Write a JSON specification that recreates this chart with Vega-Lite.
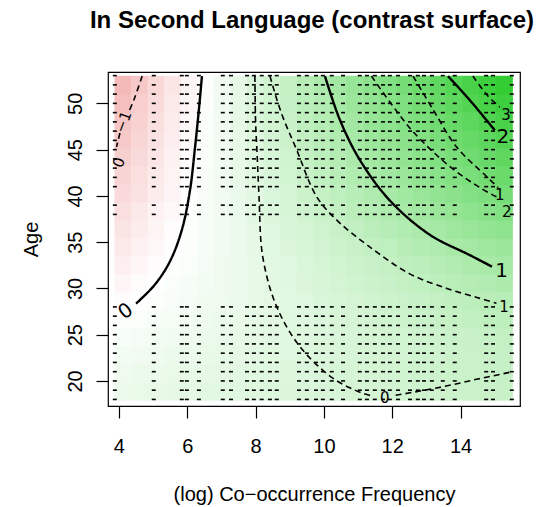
{
"$schema": "https://vega.github.io/schema/vega-lite/v6.json",
"autosize": {"type": "none"},
"padding": {"left": 108, "top": 72, "right": 21, "bottom": 101},
"width": 412,
"height": 334,
"background": "white",
"title": {"text": "In Second Language (contrast surface)", "font": "Liberation Sans", "fontSize": 24, "fontWeight": "bold", "color": "black", "anchor": "middle", "baseline": "alphabetic", "offset": 20, "dx": -2},
"config": {"view": {"stroke": "black", "strokeWidth": 1.2}},
"encoding": {
  "x": {"field": "x", "type": "quantitative", "scale": {"domain": [3.68, 15.74], "nice": false, "zero": false},
        "axis": {"values": [4, 6, 8, 10, 12, 14], "title": "(log) Co−occurrence Frequency", "domain": false, "grid": false, "tickSize": 12, "tickColor": "black", "tickWidth": 1.2, "labelFont": "Liberation Sans", "labelFontSize": 20, "labelColor": "black", "labelBaseline": "top", "labelPadding": 18, "labelFlush": false, "titleFont": "Liberation Sans", "titleFontSize": 20, "titleFontWeight": "normal", "titleColor": "black", "titleBaseline": "alphabetic", "titleY": 94, "titleX": 206}},
  "y": {"field": "y", "type": "quantitative", "scale": {"domain": [17.29, 53.39], "nice": false, "zero": false},
        "axis": {"values": [20, 25, 30, 35, 40, 45, 50], "title": "Age", "domain": false, "grid": false, "tickSize": 12, "tickColor": "black", "tickWidth": 1.2, "labelFont": "Liberation Sans", "labelFontSize": 20, "labelColor": "black", "labelAngle": -90, "labelAlign": "center", "labelBaseline": "top", "labelPadding": 31, "labelFlush": false, "titleFont": "Liberation Sans", "titleFontSize": 20, "titleFontWeight": "normal", "titleColor": "black", "titleAngle": -90, "titleAlign": "center", "titleBaseline": "alphabetic", "titleX": -71, "titleY": 167}}
},
"layer": [
{
"data": {"values": [
{"x":4.12,"y":18.87,"v":0.24},{"x":4.61,"y":18.87,"v":0.26},{"x":5.09,"y":18.87,"v":0.27},{"x":5.58,"y":18.87,"v":0.29},{"x":6.06,"y":18.87,"v":0.31},{"x":6.55,"y":18.87,"v":0.33},{"x":7.03,"y":18.87,"v":0.35},{"x":7.52,"y":18.87,"v":0.36},{"x":8.00,"y":18.87,"v":0.38},{"x":8.49,"y":18.87,"v":0.40},{"x":8.97,"y":18.87,"v":0.42},{"x":9.46,"y":18.87,"v":0.44},{"x":9.94,"y":18.87,"v":0.45},{"x":10.43,"y":18.87,"v":0.47},{"x":10.91,"y":18.87,"v":0.49},{"x":11.40,"y":18.87,"v":0.51},{"x":11.88,"y":18.87,"v":0.53},{"x":12.37,"y":18.87,"v":0.54},{"x":12.85,"y":18.87,"v":0.56},{"x":13.34,"y":18.87,"v":0.58},{"x":13.82,"y":18.87,"v":0.60},{"x":14.31,"y":18.87,"v":0.62},{"x":14.79,"y":18.87,"v":0.63},{"x":15.28,"y":18.87,"v":0.65},
{"x":4.12,"y":20.82,"v":0.20},{"x":4.61,"y":20.82,"v":0.22},{"x":5.09,"y":20.82,"v":0.24},{"x":5.58,"y":20.82,"v":0.26},{"x":6.06,"y":20.82,"v":0.28},{"x":6.55,"y":20.82,"v":0.30},{"x":7.03,"y":20.82,"v":0.32},{"x":7.52,"y":20.82,"v":0.34},{"x":8.00,"y":20.82,"v":0.36},{"x":8.49,"y":20.82,"v":0.38},{"x":8.97,"y":20.82,"v":0.40},{"x":9.46,"y":20.82,"v":0.42},{"x":9.94,"y":20.82,"v":0.45},{"x":10.43,"y":20.82,"v":0.47},{"x":10.91,"y":20.82,"v":0.49},{"x":11.40,"y":20.82,"v":0.51},{"x":11.88,"y":20.82,"v":0.53},{"x":12.37,"y":20.82,"v":0.55},{"x":12.85,"y":20.82,"v":0.57},{"x":13.34,"y":20.82,"v":0.59},{"x":13.82,"y":20.82,"v":0.61},{"x":14.31,"y":20.82,"v":0.63},{"x":14.79,"y":20.82,"v":0.65},{"x":15.28,"y":20.82,"v":0.67},
{"x":4.12,"y":22.77,"v":0.15},{"x":4.61,"y":22.77,"v":0.17},{"x":5.09,"y":22.77,"v":0.19},{"x":5.58,"y":22.77,"v":0.22},{"x":6.06,"y":22.77,"v":0.24},{"x":6.55,"y":22.77,"v":0.26},{"x":7.03,"y":22.77,"v":0.28},{"x":7.52,"y":22.77,"v":0.31},{"x":8.00,"y":22.77,"v":0.33},{"x":8.49,"y":22.77,"v":0.35},{"x":8.97,"y":22.77,"v":0.38},{"x":9.46,"y":22.77,"v":0.40},{"x":9.94,"y":22.77,"v":0.42},{"x":10.43,"y":22.77,"v":0.44},{"x":10.91,"y":22.77,"v":0.47},{"x":11.40,"y":22.77,"v":0.49},{"x":11.88,"y":22.77,"v":0.51},{"x":12.37,"y":22.77,"v":0.53},{"x":12.85,"y":22.77,"v":0.56},{"x":13.34,"y":22.77,"v":0.58},{"x":13.82,"y":22.77,"v":0.60},{"x":14.31,"y":22.77,"v":0.63},{"x":14.79,"y":22.77,"v":0.65},{"x":15.28,"y":22.77,"v":0.67},
{"x":4.12,"y":24.72,"v":0.09},{"x":4.61,"y":24.72,"v":0.12},{"x":5.09,"y":24.72,"v":0.15},{"x":5.58,"y":24.72,"v":0.17},{"x":6.06,"y":24.72,"v":0.20},{"x":6.55,"y":24.72,"v":0.22},{"x":7.03,"y":24.72,"v":0.25},{"x":7.52,"y":24.72,"v":0.28},{"x":8.00,"y":24.72,"v":0.30},{"x":8.49,"y":24.72,"v":0.33},{"x":8.97,"y":24.72,"v":0.36},{"x":9.46,"y":24.72,"v":0.38},{"x":9.94,"y":24.72,"v":0.41},{"x":10.43,"y":24.72,"v":0.44},{"x":10.91,"y":24.72,"v":0.46},{"x":11.40,"y":24.72,"v":0.49},{"x":11.88,"y":24.72,"v":0.52},{"x":12.37,"y":24.72,"v":0.54},{"x":12.85,"y":24.72,"v":0.57},{"x":13.34,"y":24.72,"v":0.59},{"x":13.82,"y":24.72,"v":0.62},{"x":14.31,"y":24.72,"v":0.65},{"x":14.79,"y":24.72,"v":0.67},{"x":15.28,"y":24.72,"v":0.70},
{"x":4.12,"y":26.66,"v":0.04},{"x":4.61,"y":26.66,"v":0.07},{"x":5.09,"y":26.66,"v":0.10},{"x":5.58,"y":26.66,"v":0.13},{"x":6.06,"y":26.66,"v":0.17},{"x":6.55,"y":26.66,"v":0.20},{"x":7.03,"y":26.66,"v":0.23},{"x":7.52,"y":26.66,"v":0.26},{"x":8.00,"y":26.66,"v":0.29},{"x":8.49,"y":26.66,"v":0.33},{"x":8.97,"y":26.66,"v":0.36},{"x":9.46,"y":26.66,"v":0.39},{"x":9.94,"y":26.66,"v":0.42},{"x":10.43,"y":26.66,"v":0.46},{"x":10.91,"y":26.66,"v":0.49},{"x":11.40,"y":26.66,"v":0.52},{"x":11.88,"y":26.66,"v":0.55},{"x":12.37,"y":26.66,"v":0.59},{"x":12.85,"y":26.66,"v":0.62},{"x":13.34,"y":26.66,"v":0.65},{"x":13.82,"y":26.66,"v":0.68},{"x":14.31,"y":26.66,"v":0.71},{"x":14.79,"y":26.66,"v":0.75},{"x":15.28,"y":26.66,"v":0.78},
{"x":4.12,"y":28.61,"v":-0.03},{"x":4.61,"y":28.61,"v":0.01},{"x":5.09,"y":28.61,"v":0.05},{"x":5.58,"y":28.61,"v":0.08},{"x":6.06,"y":28.61,"v":0.12},{"x":6.55,"y":28.61,"v":0.16},{"x":7.03,"y":28.61,"v":0.20},{"x":7.52,"y":28.61,"v":0.24},{"x":8.00,"y":28.61,"v":0.28},{"x":8.49,"y":28.61,"v":0.32},{"x":8.97,"y":28.61,"v":0.35},{"x":9.46,"y":28.61,"v":0.39},{"x":9.94,"y":28.61,"v":0.43},{"x":10.43,"y":28.61,"v":0.47},{"x":10.91,"y":28.61,"v":0.51},{"x":11.40,"y":28.61,"v":0.55},{"x":11.88,"y":28.61,"v":0.59},{"x":12.37,"y":28.61,"v":0.62},{"x":12.85,"y":28.61,"v":0.66},{"x":13.34,"y":28.61,"v":0.70},{"x":13.82,"y":28.61,"v":0.74},{"x":14.31,"y":28.61,"v":0.78},{"x":14.79,"y":28.61,"v":0.82},{"x":15.28,"y":28.61,"v":0.85},
{"x":4.12,"y":30.56,"v":-0.08},{"x":4.61,"y":30.56,"v":-0.04},{"x":5.09,"y":30.56,"v":0.01},{"x":5.58,"y":30.56,"v":0.06},{"x":6.06,"y":30.56,"v":0.10},{"x":6.55,"y":30.56,"v":0.15},{"x":7.03,"y":30.56,"v":0.19},{"x":7.52,"y":30.56,"v":0.24},{"x":8.00,"y":30.56,"v":0.28},{"x":8.49,"y":30.56,"v":0.33},{"x":8.97,"y":30.56,"v":0.37},{"x":9.46,"y":30.56,"v":0.42},{"x":9.94,"y":30.56,"v":0.46},{"x":10.43,"y":30.56,"v":0.51},{"x":10.91,"y":30.56,"v":0.55},{"x":11.40,"y":30.56,"v":0.60},{"x":11.88,"y":30.56,"v":0.64},{"x":12.37,"y":30.56,"v":0.69},{"x":12.85,"y":30.56,"v":0.73},{"x":13.34,"y":30.56,"v":0.78},{"x":13.82,"y":30.56,"v":0.82},{"x":14.31,"y":30.56,"v":0.87},{"x":14.79,"y":30.56,"v":0.91},{"x":15.28,"y":30.56,"v":0.96},
{"x":4.12,"y":32.50,"v":-0.14},{"x":4.61,"y":32.50,"v":-0.08},{"x":5.09,"y":32.50,"v":-0.03},{"x":5.58,"y":32.50,"v":0.02},{"x":6.06,"y":32.50,"v":0.07},{"x":6.55,"y":32.50,"v":0.12},{"x":7.03,"y":32.50,"v":0.18},{"x":7.52,"y":32.50,"v":0.23},{"x":8.00,"y":32.50,"v":0.28},{"x":8.49,"y":32.50,"v":0.33},{"x":8.97,"y":32.50,"v":0.38},{"x":9.46,"y":32.50,"v":0.44},{"x":9.94,"y":32.50,"v":0.49},{"x":10.43,"y":32.50,"v":0.54},{"x":10.91,"y":32.50,"v":0.59},{"x":11.40,"y":32.50,"v":0.64},{"x":11.88,"y":32.50,"v":0.70},{"x":12.37,"y":32.50,"v":0.75},{"x":12.85,"y":32.50,"v":0.80},{"x":13.34,"y":32.50,"v":0.85},{"x":13.82,"y":32.50,"v":0.90},{"x":14.31,"y":32.50,"v":0.96},{"x":14.79,"y":32.50,"v":1.01},{"x":15.28,"y":32.50,"v":1.06},
{"x":4.12,"y":34.45,"v":-0.19},{"x":4.61,"y":34.45,"v":-0.13},{"x":5.09,"y":34.45,"v":-0.07},{"x":5.58,"y":34.45,"v":-0.01},{"x":6.06,"y":34.45,"v":0.05},{"x":6.55,"y":34.45,"v":0.11},{"x":7.03,"y":34.45,"v":0.17},{"x":7.52,"y":34.45,"v":0.23},{"x":8.00,"y":34.45,"v":0.29},{"x":8.49,"y":34.45,"v":0.35},{"x":8.97,"y":34.45,"v":0.41},{"x":9.46,"y":34.45,"v":0.47},{"x":9.94,"y":34.45,"v":0.53},{"x":10.43,"y":34.45,"v":0.59},{"x":10.91,"y":34.45,"v":0.65},{"x":11.40,"y":34.45,"v":0.71},{"x":11.88,"y":34.45,"v":0.77},{"x":12.37,"y":34.45,"v":0.83},{"x":12.85,"y":34.45,"v":0.89},{"x":13.34,"y":34.45,"v":0.95},{"x":13.82,"y":34.45,"v":1.01},{"x":14.31,"y":34.45,"v":1.07},{"x":14.79,"y":34.45,"v":1.13},{"x":15.28,"y":34.45,"v":1.19},
{"x":4.12,"y":36.40,"v":-0.24},{"x":4.61,"y":36.40,"v":-0.17},{"x":5.09,"y":36.40,"v":-0.10},{"x":5.58,"y":36.40,"v":-0.03},{"x":6.06,"y":36.40,"v":0.04},{"x":6.55,"y":36.40,"v":0.10},{"x":7.03,"y":36.40,"v":0.17},{"x":7.52,"y":36.40,"v":0.24},{"x":8.00,"y":36.40,"v":0.31},{"x":8.49,"y":36.40,"v":0.38},{"x":8.97,"y":36.40,"v":0.45},{"x":9.46,"y":36.40,"v":0.51},{"x":9.94,"y":36.40,"v":0.58},{"x":10.43,"y":36.40,"v":0.65},{"x":10.91,"y":36.40,"v":0.72},{"x":11.40,"y":36.40,"v":0.79},{"x":11.88,"y":36.40,"v":0.86},{"x":12.37,"y":36.40,"v":0.92},{"x":12.85,"y":36.40,"v":0.99},{"x":13.34,"y":36.40,"v":1.06},{"x":13.82,"y":36.40,"v":1.13},{"x":14.31,"y":36.40,"v":1.20},{"x":14.79,"y":36.40,"v":1.27},{"x":15.28,"y":36.40,"v":1.33},
{"x":4.12,"y":38.35,"v":-0.29},{"x":4.61,"y":38.35,"v":-0.21},{"x":5.09,"y":38.35,"v":-0.13},{"x":5.58,"y":38.35,"v":-0.06},{"x":6.06,"y":38.35,"v":0.02},{"x":6.55,"y":38.35,"v":0.10},{"x":7.03,"y":38.35,"v":0.17},{"x":7.52,"y":38.35,"v":0.25},{"x":8.00,"y":38.35,"v":0.33},{"x":8.49,"y":38.35,"v":0.40},{"x":8.97,"y":38.35,"v":0.48},{"x":9.46,"y":38.35,"v":0.56},{"x":9.94,"y":38.35,"v":0.63},{"x":10.43,"y":38.35,"v":0.71},{"x":10.91,"y":38.35,"v":0.79},{"x":11.40,"y":38.35,"v":0.87},{"x":11.88,"y":38.35,"v":0.94},{"x":12.37,"y":38.35,"v":1.02},{"x":12.85,"y":38.35,"v":1.10},{"x":13.34,"y":38.35,"v":1.17},{"x":13.82,"y":38.35,"v":1.25},{"x":14.31,"y":38.35,"v":1.33},{"x":14.79,"y":38.35,"v":1.40},{"x":15.28,"y":38.35,"v":1.48},
{"x":4.12,"y":40.29,"v":-0.34},{"x":4.61,"y":40.29,"v":-0.26},{"x":5.09,"y":40.29,"v":-0.17},{"x":5.58,"y":40.29,"v":-0.09},{"x":6.06,"y":40.29,"v":0.00},{"x":6.55,"y":40.29,"v":0.08},{"x":7.03,"y":40.29,"v":0.17},{"x":7.52,"y":40.29,"v":0.25},{"x":8.00,"y":40.29,"v":0.34},{"x":8.49,"y":40.29,"v":0.43},{"x":8.97,"y":40.29,"v":0.51},{"x":9.46,"y":40.29,"v":0.60},{"x":9.94,"y":40.29,"v":0.68},{"x":10.43,"y":40.29,"v":0.77},{"x":10.91,"y":40.29,"v":0.85},{"x":11.40,"y":40.29,"v":0.94},{"x":11.88,"y":40.29,"v":1.02},{"x":12.37,"y":40.29,"v":1.11},{"x":12.85,"y":40.29,"v":1.20},{"x":13.34,"y":40.29,"v":1.28},{"x":13.82,"y":40.29,"v":1.37},{"x":14.31,"y":40.29,"v":1.45},{"x":14.79,"y":40.29,"v":1.54},{"x":15.28,"y":40.29,"v":1.62},
{"x":4.12,"y":42.24,"v":-0.39},{"x":4.61,"y":42.24,"v":-0.29},{"x":5.09,"y":42.24,"v":-0.20},{"x":5.58,"y":42.24,"v":-0.11},{"x":6.06,"y":42.24,"v":-0.01},{"x":6.55,"y":42.24,"v":0.08},{"x":7.03,"y":42.24,"v":0.17},{"x":7.52,"y":42.24,"v":0.27},{"x":8.00,"y":42.24,"v":0.36},{"x":8.49,"y":42.24,"v":0.45},{"x":8.97,"y":42.24,"v":0.54},{"x":9.46,"y":42.24,"v":0.64},{"x":9.94,"y":42.24,"v":0.73},{"x":10.43,"y":42.24,"v":0.82},{"x":10.91,"y":42.24,"v":0.92},{"x":11.40,"y":42.24,"v":1.01},{"x":11.88,"y":42.24,"v":1.10},{"x":12.37,"y":42.24,"v":1.20},{"x":12.85,"y":42.24,"v":1.29},{"x":13.34,"y":42.24,"v":1.38},{"x":13.82,"y":42.24,"v":1.48},{"x":14.31,"y":42.24,"v":1.57},{"x":14.79,"y":42.24,"v":1.66},{"x":15.28,"y":42.24,"v":1.75},
{"x":4.12,"y":44.19,"v":-0.43},{"x":4.61,"y":44.19,"v":-0.33},{"x":5.09,"y":44.19,"v":-0.23},{"x":5.58,"y":44.19,"v":-0.13},{"x":6.06,"y":44.19,"v":-0.03},{"x":6.55,"y":44.19,"v":0.07},{"x":7.03,"y":44.19,"v":0.17},{"x":7.52,"y":44.19,"v":0.27},{"x":8.00,"y":44.19,"v":0.37},{"x":8.49,"y":44.19,"v":0.47},{"x":8.97,"y":44.19,"v":0.58},{"x":9.46,"y":44.19,"v":0.68},{"x":9.94,"y":44.19,"v":0.78},{"x":10.43,"y":44.19,"v":0.88},{"x":10.91,"y":44.19,"v":0.98},{"x":11.40,"y":44.19,"v":1.08},{"x":11.88,"y":44.19,"v":1.18},{"x":12.37,"y":44.19,"v":1.28},{"x":12.85,"y":44.19,"v":1.38},{"x":13.34,"y":44.19,"v":1.48},{"x":13.82,"y":44.19,"v":1.58},{"x":14.31,"y":44.19,"v":1.68},{"x":14.79,"y":44.19,"v":1.78},{"x":15.28,"y":44.19,"v":1.88},
{"x":4.12,"y":46.13,"v":-0.48},{"x":4.61,"y":46.13,"v":-0.37},{"x":5.09,"y":46.13,"v":-0.26},{"x":5.58,"y":46.13,"v":-0.15},{"x":6.06,"y":46.13,"v":-0.04},{"x":6.55,"y":46.13,"v":0.07},{"x":7.03,"y":46.13,"v":0.17},{"x":7.52,"y":46.13,"v":0.28},{"x":8.00,"y":46.13,"v":0.39},{"x":8.49,"y":46.13,"v":0.50},{"x":8.97,"y":46.13,"v":0.61},{"x":9.46,"y":46.13,"v":0.72},{"x":9.94,"y":46.13,"v":0.82},{"x":10.43,"y":46.13,"v":0.93},{"x":10.91,"y":46.13,"v":1.04},{"x":11.40,"y":46.13,"v":1.15},{"x":11.88,"y":46.13,"v":1.26},{"x":12.37,"y":46.13,"v":1.36},{"x":12.85,"y":46.13,"v":1.47},{"x":13.34,"y":46.13,"v":1.58},{"x":13.82,"y":46.13,"v":1.69},{"x":14.31,"y":46.13,"v":1.80},{"x":14.79,"y":46.13,"v":1.91},{"x":15.28,"y":46.13,"v":2.01},
{"x":4.12,"y":48.08,"v":-0.52},{"x":4.61,"y":48.08,"v":-0.41},{"x":5.09,"y":48.08,"v":-0.29},{"x":5.58,"y":48.08,"v":-0.17},{"x":6.06,"y":48.08,"v":-0.06},{"x":6.55,"y":48.08,"v":0.06},{"x":7.03,"y":48.08,"v":0.17},{"x":7.52,"y":48.08,"v":0.29},{"x":8.00,"y":48.08,"v":0.41},{"x":8.49,"y":48.08,"v":0.52},{"x":8.97,"y":48.08,"v":0.64},{"x":9.46,"y":48.08,"v":0.75},{"x":9.94,"y":48.08,"v":0.87},{"x":10.43,"y":48.08,"v":0.98},{"x":10.91,"y":48.08,"v":1.10},{"x":11.40,"y":48.08,"v":1.22},{"x":11.88,"y":48.08,"v":1.33},{"x":12.37,"y":48.08,"v":1.45},{"x":12.85,"y":48.08,"v":1.56},{"x":13.34,"y":48.08,"v":1.68},{"x":13.82,"y":48.08,"v":1.79},{"x":14.31,"y":48.08,"v":1.91},{"x":14.79,"y":48.08,"v":2.03},{"x":15.28,"y":48.08,"v":2.14},
{"x":4.12,"y":50.03,"v":-0.57},{"x":4.61,"y":50.03,"v":-0.44},{"x":5.09,"y":50.03,"v":-0.32},{"x":5.58,"y":50.03,"v":-0.20},{"x":6.06,"y":50.03,"v":-0.08},{"x":6.55,"y":50.03,"v":0.05},{"x":7.03,"y":50.03,"v":0.17},{"x":7.52,"y":50.03,"v":0.30},{"x":8.00,"y":50.03,"v":0.42},{"x":8.49,"y":50.03,"v":0.54},{"x":8.97,"y":50.03,"v":0.67},{"x":9.46,"y":50.03,"v":0.79},{"x":9.94,"y":50.03,"v":0.91},{"x":10.43,"y":50.03,"v":1.04},{"x":10.91,"y":50.03,"v":1.16},{"x":11.40,"y":50.03,"v":1.28},{"x":11.88,"y":50.03,"v":1.41},{"x":12.37,"y":50.03,"v":1.53},{"x":12.85,"y":50.03,"v":1.65},{"x":13.34,"y":50.03,"v":1.78},{"x":13.82,"y":50.03,"v":1.90},{"x":14.31,"y":50.03,"v":2.02},{"x":14.79,"y":50.03,"v":2.15},{"x":15.28,"y":50.03,"v":2.27},
{"x":4.12,"y":51.98,"v":-0.62},{"x":4.61,"y":51.98,"v":-0.49},{"x":5.09,"y":51.98,"v":-0.35},{"x":5.58,"y":51.98,"v":-0.22},{"x":6.06,"y":51.98,"v":-0.09},{"x":6.55,"y":51.98,"v":0.04},{"x":7.03,"y":51.98,"v":0.17},{"x":7.52,"y":51.98,"v":0.30},{"x":8.00,"y":51.98,"v":0.43},{"x":8.49,"y":51.98,"v":0.56},{"x":8.97,"y":51.98,"v":0.69},{"x":9.46,"y":51.98,"v":0.83},{"x":9.94,"y":51.98,"v":0.96},{"x":10.43,"y":51.98,"v":1.09},{"x":10.91,"y":51.98,"v":1.22},{"x":11.40,"y":51.98,"v":1.35},{"x":11.88,"y":51.98,"v":1.48},{"x":12.37,"y":51.98,"v":1.61},{"x":12.85,"y":51.98,"v":1.74},{"x":13.34,"y":51.98,"v":1.87},{"x":13.82,"y":51.98,"v":2.00},{"x":14.31,"y":51.98,"v":2.14},{"x":14.79,"y":51.98,"v":2.27},{"x":15.28,"y":51.98,"v":2.40}
]},
"mark": {"type": "rect", "width": 17.2, "height": 18.6},
"encoding": {"color": {"field": "v", "type": "quantitative", "scale": {"type": "linear", "domain": [-2.0, 0, 2.6], "range": ["#dd2020", "#ffffff", "#22c822"], "interpolate": "rgb"}, "legend": null}}
},
{
"data": {"values": [{"x": [3.88, 5.02, 5.84, 5.99, 6.34, 7.04, 7.28, 7.75, 7.95, 8.18, 8.42, 8.62, 9.27, 9.50, 9.77, 9.97, 10.23, 10.56, 11.05, 11.26, 11.49, 11.73, 11.93, 12.17, 12.52, 12.75, 12.93, 13.16, 13.48, 13.83, 14.75, 14.95, 15.50], "y": [18, 19, 20, 21, 22, 23, 24, 25, 26, 27, 28, 38, 39, 41, 42, 43, 44, 45, 46, 47, 48, 49, 50, 51, 52, 53]}]},
"transform": [{"flatten": ["x"]}, {"flatten": ["y"]}],
"mark": {"type": "tick", "orient": "horizontal", "size": 4, "thickness": 1.6, "color": "black", "opacity": 1}
},
{
"data": {"values": [
{"c":"s0","k":1,"x":6.43,"y":52.95,"type":"fit"},{"c":"s0","k":2,"x":6.34,"y":49.3,"type":"fit"},{"c":"s0","k":3,"x":6.22,"y":45.0,"type":"fit"},{"c":"s0","k":4,"x":6.08,"y":40.6,"type":"fit"},{"c":"s0","k":5,"x":5.84,"y":36.3,"type":"fit"},{"c":"s0","k":6,"x":5.49,"y":32.9,"type":"fit"},{"c":"s0","k":7,"x":5.05,"y":30.4,"type":"fit"},{"c":"s0","k":8,"x":4.5,"y":28.35,"type":"fit"},
{"c":"s1","k":1,"x":10.03,"y":52.95,"type":"fit"},{"c":"s1","k":2,"x":10.47,"y":48.2,"type":"fit"},{"c":"s1","k":3,"x":11.05,"y":43.9,"type":"fit"},{"c":"s1","k":4,"x":11.93,"y":39.5,"type":"fit"},{"c":"s1","k":5,"x":13.1,"y":35.8,"type":"fit"},{"c":"s1","k":6,"x":14.27,"y":33.6,"type":"fit"},{"c":"s1","k":7,"x":14.92,"y":32.35,"type":"fit"},
{"c":"s2","k":1,"x":13.63,"y":52.95,"type":"fit"},{"c":"s2","k":2,"x":14.27,"y":50.35,"type":"fit"},{"c":"s2","k":3,"x":15.0,"y":47.1,"type":"fit"},
{"c":"cm1","k":1,"x":4.68,"y":52.95,"type":"ci"},{"c":"cm1","k":2,"x":4.45,"y":50.5,"type":"ci"},{"c":"cm1","k":3,"x":4.28,"y":49.0,"type":"ci"},
{"c":"cm1b","k":1,"x":4.03,"y":46.8,"type":"ci"},{"c":"cm1b","k":2,"x":3.93,"y":45.3,"type":"ci"},
{"c":"c0","k":1,"x":7.98,"y":52.95,"type":"ci"},{"c":"c0","k":2,"x":8.0,"y":48.0,"type":"ci"},{"c":"c0","k":3,"x":8.04,"y":44.9,"type":"ci"},{"c":"c0","k":4,"x":8.1,"y":40.0,"type":"ci"},{"c":"c0","k":5,"x":8.21,"y":33.4,"type":"ci"},{"c":"c0","k":6,"x":8.62,"y":28.0,"type":"ci"},{"c":"c0","k":7,"x":9.3,"y":23.7,"type":"ci"},{"c":"c0","k":8,"x":10.26,"y":20.3,"type":"ci"},{"c":"c0","k":9,"x":11.11,"y":18.7,"type":"ci"},{"c":"c0","k":10,"x":11.45,"y":18.35,"type":"ci"},
{"c":"c0b","k":1,"x":12.1,"y":18.45,"type":"ci"},{"c":"c0b","k":2,"x":13.39,"y":19.3,"type":"ci"},{"c":"c0b","k":3,"x":14.5,"y":20.2,"type":"ci"},{"c":"c0b","k":4,"x":15.53,"y":21.0,"type":"ci"},
{"c":"c1","k":1,"x":8.42,"y":52.95,"type":"ci"},{"c":"c1","k":2,"x":8.75,"y":49.0,"type":"ci"},{"c":"c1","k":3,"x":9.2,"y":45.0,"type":"ci"},{"c":"c1","k":4,"x":9.79,"y":39.9,"type":"ci"},{"c":"c1","k":5,"x":10.4,"y":37.3,"type":"ci"},{"c":"c1","k":6,"x":11.3,"y":34.6,"type":"ci"},{"c":"c1","k":7,"x":12.5,"y":31.6,"type":"ci"},{"c":"c1","k":8,"x":13.6,"y":30.0,"type":"ci"},{"c":"c1","k":9,"x":14.5,"y":29.0,"type":"ci"},{"c":"c1","k":10,"x":15.05,"y":28.4,"type":"ci"},
{"c":"cA","k":1,"x":11.39,"y":52.95,"type":"ci"},{"c":"cA","k":2,"x":12.0,"y":49.8,"type":"ci"},{"c":"cA","k":3,"x":12.61,"y":46.94,"type":"ci"},{"c":"cA","k":4,"x":13.69,"y":43.16,"type":"ci"},{"c":"cA","k":5,"x":14.61,"y":40.8,"type":"ci"},{"c":"cA","k":6,"x":15.05,"y":39.9,"type":"ci"},
{"c":"cB","k":1,"x":12.61,"y":52.95,"type":"ci"},{"c":"cB","k":2,"x":13.2,"y":49.3,"type":"ci"},{"c":"cB","k":3,"x":13.88,"y":45.3,"type":"ci"},{"c":"cB","k":4,"x":14.76,"y":42.1,"type":"ci"},{"c":"cB","k":5,"x":15.1,"y":40.9,"type":"ci"},
{"c":"c3","k":1,"x":14.36,"y":52.95,"type":"ci"},{"c":"c3","k":2,"x":14.8,"y":50.8,"type":"ci"},{"c":"c3","k":3,"x":15.15,"y":49.6,"type":"ci"}
]},
"mark": {"type": "line", "color": "black", "clip": true, "strokeCap": "butt", "interpolate": "catmull-rom"},
"encoding": {
  "detail": {"field": "c", "type": "nominal"},
  "order": {"field": "k", "type": "quantitative"},
  "strokeDash": {"field": "type", "type": "nominal", "scale": {"domain": ["fit", "ci"], "range": [[1, 0], [6, 4]]}, "legend": null},
  "strokeWidth": {"field": "type", "type": "nominal", "scale": {"domain": ["fit", "ci"], "range": [2.4, 1.6]}, "legend": null}
}
},
{
"data": {"values": [
{"x":15.2,"y":31.9,"t":"1","type":"fit"},
{"x":15.24,"y":46.4,"t":"2","type":"fit"},
{"x":11.78,"y":18.2,"t":"0","type":"ci"},
{"x":15.27,"y":28.0,"t":"1","type":"ci"},
{"x":15.15,"y":40.1,"t":"1","type":"ci"},
{"x":15.35,"y":38.3,"t":"2","type":"ci"},
{"x":15.33,"y":48.7,"t":"3","type":"ci"}
]},
"mark": {"type": "text", "font": "DejaVu Sans", "color": "black", "align": "center", "baseline": "middle"},
"encoding": {
  "text": {"field": "t", "type": "nominal"},
  "size": {"field": "type", "type": "nominal", "scale": {"domain": ["fit", "ci"], "range": [20, 15]}, "legend": null}
}
},
{
"data": {"values": [
{"x":4.13,"y":48.0,"t":"−1"},
{"x":4.0,"y":43.6,"t":"0"}
]},
"mark": {"type": "text", "font": "DejaVu Sans", "fontSize": 15, "color": "black", "align": "center", "baseline": "middle", "angle": 290},
"encoding": {"text": {"field": "t", "type": "nominal"}}
},
{
"data": {"values": [
{"x":4.2,"y":27.5,"t":"0"}
]},
"mark": {"type": "text", "font": "DejaVu Sans", "fontSize": 20, "color": "black", "align": "center", "baseline": "middle", "angle": 325},
"encoding": {"text": {"field": "t", "type": "nominal"}}
}
]
}
